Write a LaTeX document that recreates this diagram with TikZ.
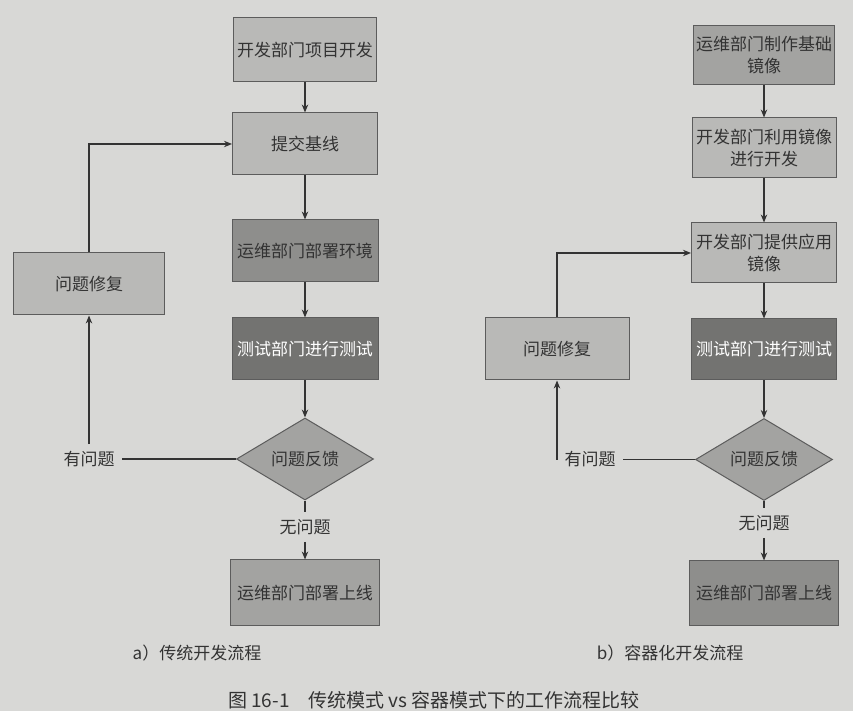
\documentclass[tikz,border=0pt]{standalone}
\usepackage{fontspec}
\setmainfont{Noto Sans CJK SC}
\usepackage{tikz}
\usetikzlibrary{arrows.meta,shapes.geometric}
\definecolor{paper}{HTML}{D8D8D6}
\definecolor{boxlight}{HTML}{B9B9B7}
\definecolor{boxmid}{HTML}{A3A3A1}
\definecolor{boxdeep}{HTML}{8E8E8C}
\definecolor{boxdark}{HTML}{737371}
\definecolor{ink}{HTML}{333333}
\begin{document}
\begin{tikzpicture}[x=0.5pt,y=-0.5pt,>={Stealth[length=4pt,width=3.2pt]},
  every node/.style={font=\fontsize{8.5pt}{11pt}\selectfont,text=ink},
  flowbox/.style={draw=ink!80,line width=0.5pt,rectangle,inner sep=1pt,align=center},
  decide/.style={draw=ink!80,line width=0.5pt,diamond,fill=boxmid,aspect=1.67,
    minimum width=68.5pt,minimum height=41pt,inner sep=0pt},
  link/.style={draw=ink,line width=0.6pt}]
\fill[paper](0,0)rectangle(853,711);
\useasboundingbox(0,0)rectangle(853,711);
% a) traditional
\node[flowbox,fill=boxlight,minimum width=71.5pt,minimum height=32pt](devL) at (305,50){开发部门项目开发};
\node[flowbox,fill=boxlight,minimum width=72.5pt,minimum height=31pt](baseL) at (305,144){提交基线};
\node[flowbox,fill=boxdeep,minimum width=73pt,minimum height=31pt](envL) at (305,251){运维部门部署环境};
\node[flowbox,fill=boxdark,minimum width=73pt,minimum height=31pt,text=white](testL) at (305,349){测试部门进行测试};
\node[decide](fbL) at (305,459){问题反馈};
\node(noL) at (305,527){无问题};
\node[flowbox,fill=boxmid,minimum width=74.5pt,minimum height=33pt](liveL) at (305,593){运维部门部署上线};
\node[flowbox,fill=boxlight,minimum width=75.5pt,minimum height=31pt](fixL) at (89,284){问题修复};
\node(yesL) at (89,459){有问题};
\node(capA) at (197,653){a）传统开发流程};
\draw[link,->](devL)--(baseL);
\draw[link,->](baseL)--(envL);
\draw[link,->](envL)--(testL);
\draw[link,->](testL)--(fbL);
\draw[link](fbL)--(noL);
\draw[link,->](noL)--(liveL);
\draw[link](fbL.west)--(yesL.east);
\draw[link,->](yesL.north)--(fixL.south);
\draw[link,->](fixL.north)|-(baseL.west);
% b) container
\node[flowbox,fill=boxmid,minimum width=70.5pt,minimum height=29.5pt](imgR) at (764,55.5){运维部门制作基础\\镜像};
\node[flowbox,fill=boxlight,minimum width=72pt,minimum height=30pt](devR) at (764,148){开发部门利用镜像\\进行开发};
\node[flowbox,fill=boxlight,minimum width=72.5pt,minimum height=30pt](appR) at (764,253){开发部门提供应用\\镜像};
\node[flowbox,fill=boxdark,minimum width=72.5pt,minimum height=30.5pt,text=white](testR) at (764,349.5){测试部门进行测试};
\node[flowbox,fill=boxlight,minimum width=72pt,minimum height=31pt](fixR) at (557,349){问题修复};
\node[decide](fbR) at (764,459.5){问题反馈};
\node(noR) at (764,523){无问题};
\node[flowbox,fill=boxdeep,minimum width=74.5pt,minimum height=32.5pt](liveR) at (764,593.5){运维部门部署上线};
\node(yesR) at (590,459.5){有问题};
\node(capB) at (670,653){b）容器化开发流程};
\draw[link,->](imgR)--(devR);
\draw[link,->](devR)--(appR);
\draw[link,->](appR)--(testR);
\draw[link,->](testR)--(fbR);
\draw[link](fbR)--(noR);
\draw[link,->](noR)--(liveR);
\draw[link](fbR.west)--(yesR.east);
\draw[link,->](yesR.west)-|(fixR.south);
\draw[link,->](fixR.north)|-(appR.west);
\node[font=\fontsize{9.5pt}{12pt}\selectfont](cap) at (434,700){图 16-1\quad 传统模式 vs 容器模式下的工作流程比较};
\end{tikzpicture}
\end{document}
